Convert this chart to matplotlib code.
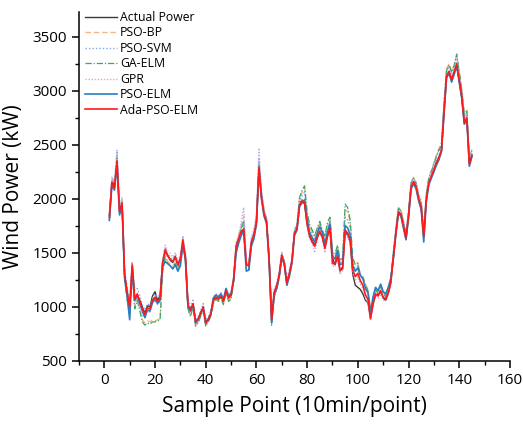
import numpy as np
import matplotlib.pyplot as plt
from matplotlib.ticker import MultipleLocator

plt.rcParams["font.family"] = ["Open Sans", "DejaVu Sans"]

sample_points = list(range(2, 146))

actual_power = [
    1850, 2170, 2120, 2330, 1900, 1950, 1280, 1150, 980, 1370, 1080, 1100,
    1060, 1000, 940, 1010, 1000, 1100, 1140, 1060, 1100, 1420, 1510, 1480,
    1430, 1410, 1470, 1380, 1450, 1600, 1470, 1010, 980, 1020, 870, 880,
    950, 990, 860, 890, 940, 1050, 1080, 1080, 1090, 1060, 1140, 1090,
    1100, 1260, 1540, 1640, 1690, 1700, 1400, 1390, 1590, 1650, 1790, 2270,
    2030, 1850, 1780, 1460, 900, 1120, 1200, 1290, 1470, 1410, 1230, 1300,
    1430, 1670, 1730, 1950, 1990, 1950, 1760, 1660, 1610, 1570, 1650, 1690,
    1640, 1550, 1660, 1720, 1450, 1390, 1460, 1330, 1370, 1700, 1660, 1600,
    1300, 1200, 1180, 1160, 1120, 1060, 1040, 900, 1020, 1110, 1110, 1140,
    1080, 1060, 1120, 1230, 1450, 1690, 1870, 1850, 1740, 1630, 1850, 2100,
    2150, 2120, 2010, 1920, 1660, 2000, 2140, 2200, 2260, 2340, 2390, 2440,
    2820, 3130, 3170, 3110, 3180, 3240, 3090, 2940, 2720, 2740, 2340, 2410,
]

pso_bp = [
    1820, 2200, 2150, 2400, 1900, 1990, 1250, 1080, 950, 1330, 1000, 1080,
    980, 880, 850, 870, 860, 880, 870, 880, 890, 1350, 1480, 1420,
    1400, 1380, 1420, 1360, 1420, 1600, 1440, 990, 920, 1010, 830, 860,
    920, 980, 830, 870, 920, 1040, 1080, 1060, 1090, 1030, 1140, 1060,
    1080, 1240, 1580, 1660, 1750, 1840, 1420, 1360, 1610, 1700, 1820, 2350,
    2050, 1900, 1820, 1450, 860, 1100, 1170, 1280, 1460, 1410, 1210, 1300,
    1430, 1700, 1760, 2000, 2060, 2100, 1850, 1750, 1700, 1650, 1720, 1780,
    1700, 1640, 1760, 1820, 1500, 1480, 1560, 1420, 1440, 1900, 1880, 1780,
    1440, 1400, 1410, 1300, 1280, 1210, 1160, 980, 1080, 1170, 1130, 1200,
    1140, 1100, 1160, 1260, 1500, 1720, 1920, 1900, 1790, 1680, 1880, 2150,
    2200, 2150, 2040, 1960, 1700, 2040, 2200, 2260, 2330, 2400, 2470, 2500,
    2880, 3200, 3250, 3180, 3240, 3330, 3180, 3020, 2790, 2820, 2380, 2460,
]

pso_svm = [
    1840, 2180, 2140, 2430, 1920, 2000, 1350, 1180, 1050, 1420, 1150, 1170,
    1100, 1020, 970, 1030, 1010, 1080, 1120, 1090, 1110, 1430, 1550, 1490,
    1460, 1440, 1480, 1420, 1470, 1640, 1480, 1060, 1000, 1060, 880, 910,
    960, 1030, 880, 910, 960, 1090, 1120, 1100, 1130, 1080, 1170, 1110,
    1140, 1280, 1590, 1650, 1740, 1800, 1440, 1410, 1630, 1700, 1820, 2380,
    2060, 1890, 1820, 1470, 900, 1160, 1220, 1320, 1500, 1430, 1260, 1340,
    1450, 1710, 1750, 1980, 2030, 2060, 1840, 1720, 1680, 1620, 1700, 1760,
    1700, 1600, 1720, 1800, 1480, 1460, 1520, 1400, 1420, 1830, 1800, 1720,
    1420, 1360, 1380, 1300, 1260, 1190, 1140, 960, 1080, 1160, 1150, 1190,
    1130, 1110, 1170, 1270, 1510, 1720, 1910, 1890, 1790, 1680, 1890, 2160,
    2190, 2150, 2040, 1980, 1720, 2050, 2190, 2250, 2320, 2400, 2450, 2520,
    2900, 3190, 3230, 3160, 3220, 3320, 3160, 3000, 2760, 2800, 2380, 2450,
]

ga_elm = [
    1810, 2160, 2110, 2380, 1870, 1970, 1240, 1060, 930, 1310, 980, 1060,
    960, 860, 830, 850, 840, 860, 860, 870, 880, 1330, 1460, 1400,
    1380, 1360, 1400, 1340, 1400, 1590, 1430, 980, 910, 1000, 820, 850,
    910, 970, 820, 860, 910, 1030, 1070, 1050, 1080, 1020, 1130, 1050,
    1070, 1230, 1570, 1640, 1720, 1790, 1360, 1340, 1590, 1680, 1800, 2310,
    2040, 1880, 1800, 1430, 830, 1090, 1160, 1270, 1450, 1390, 1200, 1290,
    1420, 1690, 1760, 2010, 2080, 2120, 1880, 1760, 1710, 1660, 1730, 1790,
    1710, 1650, 1780, 1830, 1510, 1490, 1570, 1430, 1450, 1950, 1920, 1800,
    1450, 1390, 1400, 1290, 1270, 1200, 1150, 970, 1070, 1160, 1120, 1190,
    1130, 1090, 1150, 1250, 1490, 1710, 1910, 1890, 1780, 1670, 1870, 2140,
    2190, 2140, 2030, 1950, 1690, 2030, 2190, 2250, 2320, 2390, 2450, 2490,
    2870, 3190, 3240, 3170, 3230, 3340, 3170, 3010, 2780, 2810, 2370, 2450,
]

gpr = [
    1850, 2200, 2160, 2460, 1930, 2010, 1300, 1100, 970, 1380, 1040, 1090,
    1000, 920, 900, 960, 950, 1040, 1060, 1020, 1050, 1430, 1570, 1520,
    1490, 1460, 1500, 1430, 1480, 1650, 1470, 1000, 950, 1010, 840, 870,
    930, 990, 840, 870, 920, 1070, 1110, 1080, 1110, 1060, 1160, 1090,
    1120, 1270, 1580, 1660, 1780, 1920, 1430, 1400, 1640, 1720, 1850, 2470,
    2080, 1900, 1830, 1470, 870, 1150, 1210, 1320, 1510, 1420, 1240, 1320,
    1440, 1690, 1740, 1960, 1990, 1980, 1750, 1630, 1580, 1500, 1620, 1690,
    1630, 1500, 1640, 1710, 1380, 1370, 1430, 1300, 1330, 1690, 1660, 1590,
    1310, 1250, 1280, 1210, 1170, 1080, 1040, 870, 1010, 1100, 1080, 1120,
    1060, 1050, 1110, 1210, 1450, 1670, 1890, 1870, 1760, 1650, 1860, 2130,
    2170, 2130, 2020, 1940, 1670, 2010, 2170, 2230, 2290, 2350, 2400, 2470,
    2860, 3160, 3210, 3130, 3200, 3290, 3130, 2970, 2730, 2770, 2350, 2420,
]

pso_elm = [
    1800, 2130, 2080, 2320, 1850, 1930, 1270, 1100, 880, 1370, 1060, 1110,
    1030, 960, 900, 970, 960, 1040, 1070, 1030, 1060, 1370, 1420, 1400,
    1380, 1350, 1390, 1330, 1380, 1580, 1430, 1000, 960, 1020, 850, 880,
    930, 990, 850, 880, 930, 1080, 1110, 1090, 1120, 1070, 1170, 1100,
    1120, 1240, 1500, 1590, 1660, 1700, 1330, 1340, 1560, 1630, 1760, 2260,
    2000, 1840, 1770, 1420, 850, 1110, 1170, 1280, 1460, 1390, 1200, 1280,
    1400, 1660, 1710, 1930, 1960, 1990, 1800, 1690, 1640, 1600, 1680, 1740,
    1690, 1580, 1690, 1770, 1470, 1440, 1520, 1390, 1400, 1750, 1730, 1660,
    1380, 1330, 1360, 1290, 1260, 1170, 1130, 940, 1090, 1180, 1150, 1210,
    1140, 1120, 1180, 1260, 1440, 1670, 1860, 1840, 1730, 1620, 1820, 2090,
    2140, 2090, 1980, 1900, 1600, 1970, 2130, 2190, 2250, 2310, 2360, 2440,
    2790, 3120, 3160, 3080, 3150, 3230, 3080, 2930, 2690, 2730, 2300, 2390,
]

ada_pso_elm = [
    1830, 2150, 2100, 2350, 1880, 1960, 1310, 1130, 1000, 1390, 1070, 1120,
    1050, 980, 930, 990, 980, 1060, 1090, 1050, 1080, 1400, 1530, 1470,
    1440, 1420, 1460, 1390, 1440, 1620, 1450, 1020, 970, 1030, 860, 890,
    940, 1000, 850, 880, 930, 1060, 1090, 1070, 1100, 1050, 1150, 1080,
    1110, 1250, 1560, 1630, 1700, 1720, 1390, 1380, 1600, 1660, 1780, 2290,
    2010, 1860, 1790, 1440, 880, 1130, 1190, 1300, 1480, 1400, 1220, 1310,
    1420, 1680, 1720, 1940, 1980, 1960, 1770, 1650, 1600, 1560, 1640, 1700,
    1650, 1540, 1650, 1730, 1400, 1400, 1470, 1340, 1350, 1710, 1680, 1620,
    1340, 1280, 1310, 1240, 1200, 1110, 1070, 890, 1030, 1120, 1100, 1150,
    1090, 1070, 1130, 1220, 1460, 1680, 1880, 1860, 1750, 1640, 1840, 2110,
    2160, 2110, 2000, 1930, 1650, 1990, 2150, 2210, 2270, 2330, 2380, 2450,
    2800, 3140, 3180, 3100, 3170, 3250, 3100, 2950, 2700, 2750, 2320, 2400,
]

series = [
    ("Actual Power", actual_power, dict(color="#3a3a3a", lw=1.0, ls="-")),
    ("PSO-BP", pso_bp, dict(color="#f5b48a", lw=1.0, ls=(0, (4, 2)))),
    ("PSO-SVM", pso_svm, dict(color="#7fa8e0", lw=1.0, ls=(0, (1, 1.5)))),
    ("GA-ELM", ga_elm, dict(color="#3aa86a", lw=0.9, ls=(0, (5, 1.5, 1, 1.5)))),
    ("GPR", gpr, dict(color="#c8aee8", lw=1.0, ls=(0, (1, 1.2)))),
    ("PSO-ELM", pso_elm, dict(color="#2a7dc0", lw=1.2, ls="-")),
    ("Ada-PSO-ELM", ada_pso_elm, dict(color="#ff1a1a", lw=1.2, ls="-")),
]

fig = plt.figure(figsize=(5.23, 4.24), dpi=100)
ax = fig.add_axes([0.151, 0.149, 0.824, 0.823])

for name, values, style in series:
    ax.plot(sample_points, values, label=name, **style)

ax.set_xlim(-10, 160)
ax.set_ylim(500, 3730)
ax.xaxis.set_major_locator(MultipleLocator(20))
ax.xaxis.set_minor_locator(MultipleLocator(10))
ax.yaxis.set_major_locator(MultipleLocator(500))
ax.yaxis.set_minor_locator(MultipleLocator(250))

for side in ["top", "right"]:
    ax.spines[side].set_visible(False)
for side in ["left", "bottom"]:
    ax.spines[side].set_linewidth(1.1)

ax.tick_params(which="major", direction="out", length=5, width=1.1, labelsize=11)
ax.tick_params(which="minor", direction="out", length=3, width=1.0)

ax.set_xlabel("Sample Point (10min/point)", fontsize=15, labelpad=6)
ax.set_ylabel("Wind Power (kW)", fontsize=15, labelpad=6)

ax.legend(loc="upper left", bbox_to_anchor=(0.0, 1.02), frameon=False, fontsize=8.8,
          handlelength=2.6, handletextpad=0.25, labelspacing=0.2, borderaxespad=0.1)

fig.savefig("out.png", dpi=100)
